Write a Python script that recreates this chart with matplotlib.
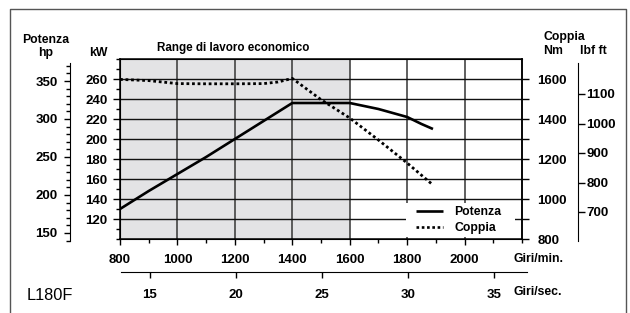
import numpy as np
import matplotlib
matplotlib.use("Agg")
import matplotlib.pyplot as plt
from matplotlib.ticker import MultipleLocator, FixedLocator
from matplotlib.lines import Line2D
from matplotlib.patches import Rectangle

plt.rcParams['font.family'] = ['Liberation Sans', 'DejaVu Sans']

# Potenza (kW) vs rpm
rpm_pot = [800, 900, 1000, 1100, 1200, 1300, 1400, 1600, 1700, 1800, 1850, 1890]
pot_kw = [130, 148, 165, 182, 200, 218, 236, 236, 230, 222, 215, 210]

# Coppia (Nm) vs rpm
rpm_cop = [800, 900, 1000, 1100, 1200, 1300, 1350, 1400, 1500, 1600, 1700, 1800, 1890]
cop_nm = [1598, 1592, 1577, 1576, 1576, 1577, 1585, 1603, 1497, 1405, 1295, 1180, 1070]

rpm_ticks = [800, 1000, 1200, 1400, 1600, 1800, 2000]
kw_ticks = [120, 140, 160, 180, 200, 220, 240, 260]
nm_ticks = [800, 1000, 1200, 1400, 1600]
nm_grid = [900, 1000, 1100, 1200, 1300, 1400, 1500, 1600]
hp_ticks = [150, 200, 250, 300, 350]
lbf_ticks = [700, 800, 900, 1000, 1100]
rps_ticks = [15, 20, 25, 30, 35]

W, H = 630, 313
fig = plt.figure(figsize=(W / 100, H / 100), dpi=100)

def box(x0, y0, x1, y1):
    # pixel box (top-left origin) -> figure fractions
    return [x0 / W, 1 - y1 / H, (x1 - x0) / W, (y1 - y0) / H]

TS = 9.5  # tick label size
tfont = dict(fontsize=8.8, fontweight='bold')

# main axes (kW)
ax = fig.add_axes(box(120, 59, 522, 239))
ax.set_xlim(800, 2200)
ax.set_ylim(100, 280)

# torque on right axis (drawn underneath, holds background + grid)
ax2 = ax.twinx()
ax2.set_ylim(800, 1700)
ax2.axvspan(800, 1600, color='#e3e3e5', zorder=0, lw=0)
for v in rpm_ticks[1:]:
    ax2.axvline(v, color='#444444', lw=1.2, zorder=1)
for g in nm_grid:
    ax2.axhline(g, color='#111111', lw=1.0, zorder=1)
# white box behind the legend
ax2.add_patch(Rectangle((0.711, 0.011), 0.272, 0.189, transform=ax2.transAxes,
                        facecolor='white', edgecolor='none', zorder=2))
ax2.plot(rpm_cop, cop_nm, color='black', lw=2.0, ls=(0, (1, 1)), zorder=3)
ax2.set_yticks(nm_ticks)
ax2.yaxis.set_minor_locator(FixedLocator([900, 1100, 1300, 1500]))
ax2.tick_params(axis='y', which='major', direction='out', length=5, width=1, pad=6, labelsize=TS)
ax2.tick_params(axis='y', which='minor', direction='out', length=5, width=1)
for lab in ax2.get_yticklabels():
    lab.set_fontweight('bold')
ax2.spines['right'].set_linewidth(1.1)

ax.set_zorder(ax2.get_zorder() + 1)
ax.patch.set_visible(False)

ax.plot(rpm_pot, pot_kw, color='black', lw=1.9, solid_capstyle='butt', zorder=3, label='Potenza')
ax.plot([], [], color='black', lw=1.9, ls=(0, (1, 1)), label='Coppia')

ax.set_xticks(rpm_ticks)
ax.xaxis.set_minor_locator(MultipleLocator(100))
ax.set_yticks(kw_ticks)
ax.yaxis.set_minor_locator(MultipleLocator(10))
ax.tick_params(axis='x', which='major', direction='out', length=4, width=1, pad=7, labelsize=TS)
ax.tick_params(axis='x', which='minor', direction='out', length=3, width=1)
ax.tick_params(axis='y', which='major', direction='out', length=5, width=1, pad=4, labelsize=TS)
ax.tick_params(axis='y', which='minor', direction='out', length=3, width=1)
for lab in ax.get_xticklabels() + ax.get_yticklabels():
    lab.set_fontweight('bold')
for s in ax.spines.values():
    s.set_linewidth(1.1)

leg = ax.legend(loc='lower left', bbox_to_anchor=(0.73, 0.015), frameon=False,
                prop=dict(size=8.8, weight='bold'), handlelength=2.2, handletextpad=0.95,
                labelspacing=0.3, borderaxespad=0.0, borderpad=0.2)

# hp axis
axh = fig.add_axes(box(70, 62.7, 71, 240.7))
axh.set_ylim(350 - (240.7 - 81) * 1.316, 350 + (81 - 62.7) * 1.316)
axh.set_xticks([])
for s in ['top', 'right', 'bottom']:
    axh.spines[s].set_visible(False)
axh.patch.set_visible(False)
axh.set_yticks(hp_ticks)
axh.yaxis.set_minor_locator(MultipleLocator(10))
axh.tick_params(axis='y', which='major', direction='out', length=4, width=1, pad=5, labelsize=TS)
axh.tick_params(axis='y', which='minor', direction='out', length=3, width=1)
for lab in axh.get_yticklabels():
    lab.set_fontweight('bold')

# lbf ft axis
axl = fig.add_axes(box(577, 62.7, 578, 240.7))
axl.set_ylim(1100 - (240.7 - 94) / 0.295, 1100 + (94 - 62.7) / 0.295)
axl.set_xticks([])
for s in ['top', 'left', 'bottom']:
    axl.spines[s].set_visible(False)
axl.patch.set_visible(False)
axl.yaxis.tick_right()
axl.set_yticks(lbf_ticks)
axl.tick_params(axis='y', which='major', direction='out', length=5, width=1, pad=1, labelsize=TS)
for lab in axl.get_yticklabels():
    lab.set_fontweight('bold')

# Giri/sec axis
axs = fig.add_axes(box(121, 271, 527, 272))
axs.set_xlim(800 / 60, 800 / 60 + 406 / 0.2871 / 60)
axs.set_yticks([])
for s in ['top', 'left', 'right']:
    axs.spines[s].set_visible(False)
axs.patch.set_visible(False)
axs.set_xticks(rps_ticks)
axs.tick_params(axis='x', direction='out', length=4, width=1, pad=8, labelsize=TS)
for lab in axs.get_xticklabels():
    lab.set_fontweight('bold')

# texts
def ftext(x, y, s, **kw):
    fig.text(x / W, 1 - y / H, s, va='center', **kw)

ftext(157, 48, 'Range di lavoro economico', ha='left', fontsize=8.4, fontweight='bold')
ftext(46, 40, 'Potenza', ha='center', **tfont)
ftext(46, 53, 'hp', ha='center', **tfont)
ftext(98, 53, 'kW', ha='center', **tfont)
ftext(543, 37, 'Coppia', ha='left', **tfont)
ftext(543, 51, 'Nm', ha='left', **tfont)
ftext(580, 51, 'lbf ft', ha='left', **tfont)
ftext(514, 259, 'Giri/min.', ha='left', **tfont)
ftext(514, 292, 'Giri/sec.', ha='left', **tfont)
ftext(27, 296, 'L180F', ha='left', fontsize=11.8)

# outer frame (open at the bottom)
bx = [10 / W, 10 / W, 626 / W, 626 / W]
by = [0, 1 - 9 / H, 1 - 9 / H, 0]
fig.add_artist(Line2D(bx, by, color='#555555', lw=1.0, transform=fig.transFigure))

fig.savefig('out.png', dpi=100)
plt.close(fig)
